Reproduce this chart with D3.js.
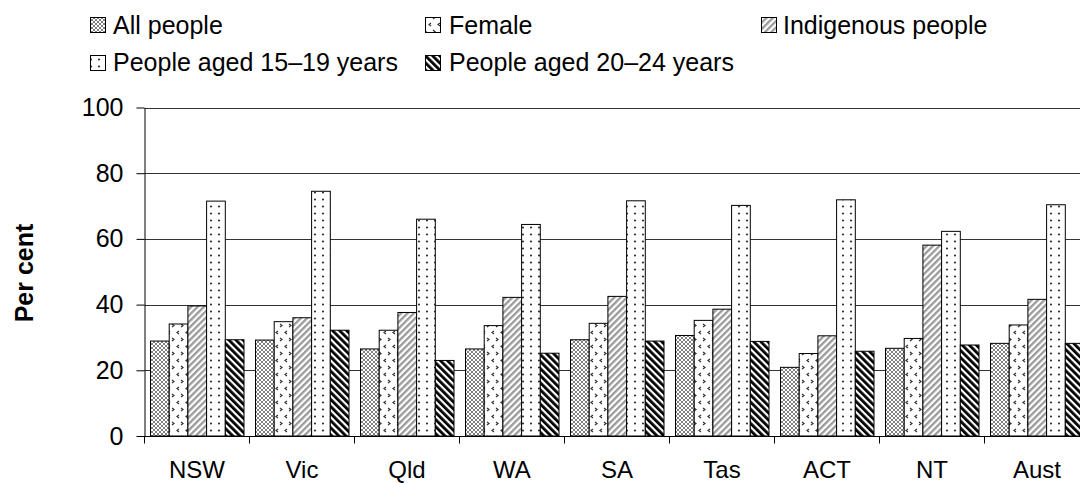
<!DOCTYPE html>
<html>
<head>
<meta charset="utf-8">
<script src="https://cdn.jsdelivr.net/npm/d3@7"></script>
<style>
  html, body { margin: 0; padding: 0; background: #fff; }
  svg { display: block; font-family: "Liberation Sans", Arial, sans-serif; }
</style>
</head>
<body>
<svg id="chart" width="1080" height="483"></svg>
<script>
const categories = ["NSW", "Vic", "Qld", "WA", "SA", "Tas", "ACT", "NT", "Aust"];
const seriesNames = ["All people", "Female", "Indigenous people", "People aged 15\u201319 years", "People aged 20\u201324 years"];
const allPeople  = [28.9, 29.2, 26.5, 26.5, 29.3, 30.6, 20.9, 26.7, 28.2];
const female     = [34.1, 34.8, 32.2, 33.6, 34.3, 35.2, 25.1, 29.7, 33.8];
const indigenous = [39.6, 36.0, 37.6, 42.2, 42.5, 38.6, 30.5, 58.1, 41.6];
const aged1519   = [71.5, 74.5, 66.0, 64.4, 71.6, 70.2, 71.9, 62.3, 70.4];
const aged2024   = [29.3, 32.2, 23.0, 25.2, 28.9, 28.8, 25.8, 27.7, 28.2];
const yTicks = [0, 20, 40, 60, 80, 100];
const yTitle = "Per cent";

const seriesValues = [allPeople, female, indigenous, aged1519, aged2024];
const patternIds = ["pAll", "pFem", "pInd", "p1519", "p2024"];

const svg = d3.select("#chart");
const defs = svg.append("defs");

// Patterns
{
  let p = defs.append("pattern").attr("id", "pAll").attr("patternUnits", "userSpaceOnUse")
    .attr("width", 4).attr("height", 4);
  p.append("rect").attr("width", 4).attr("height", 4).attr("fill", "#fff");
  p.append("path").attr("d", "M0,0L4,4M4,0L0,4").attr("stroke", "#808080").attr("stroke-width", 1);

  p = defs.append("pattern").attr("id", "pFem").attr("patternUnits", "userSpaceOnUse")
    .attr("width", 9).attr("height", 14);
  p.append("rect").attr("width", 9).attr("height", 14).attr("fill", "#fff");
  p.append("path").attr("d", "M1,2L3,3.5L1,5").attr("stroke", "#333").attr("stroke-width", 1.2).attr("fill", "none");
  p.append("path").attr("d", "M8,9L6,10.5L8,12").attr("stroke", "#333").attr("stroke-width", 1.2).attr("fill", "none");

  p = defs.append("pattern").attr("id", "pInd").attr("patternUnits", "userSpaceOnUse")
    .attr("width", 4.5).attr("height", 4.5).attr("patternTransform", "rotate(45)");
  p.append("rect").attr("width", 4.5).attr("height", 4.5).attr("fill", "#fff");
  p.append("rect").attr("width", 2.3).attr("height", 4.5).attr("fill", "#9a9a9a");

  p = defs.append("pattern").attr("id", "p1519").attr("patternUnits", "userSpaceOnUse")
    .attr("width", 8).attr("height", 7);
  p.append("rect").attr("width", 8).attr("height", 7).attr("fill", "#fff");
  p.append("circle").attr("cx", 3).attr("cy", 3.5).attr("r", 1.1).attr("fill", "#333");

  p = defs.append("pattern").attr("id", "p2024").attr("patternUnits", "userSpaceOnUse")
    .attr("width", 5).attr("height", 5).attr("patternTransform", "rotate(-45)");
  p.append("rect").attr("width", 5).attr("height", 5).attr("fill", "#fff");
  p.append("rect").attr("width", 2.8).attr("height", 5).attr("fill", "#000");
}

const x0 = 144.5, band = 105;
const x = d3.scaleBand().domain(categories).range([x0, x0 + band * categories.length]).padding(0);
const xs = d3.scaleBand().domain(d3.range(seriesNames.length)).range([6, 99.5]).padding(0);
const y = d3.scaleLinear().domain([0, 100]).range([436, 107.5]);

// Gridlines
svg.append("g").selectAll("line").data(yTicks.filter(t => t > 0)).join("line")
  .attr("x1", x0).attr("x2", 1080)
  .attr("y1", d => Math.round(y(d)) + 0.5).attr("y2", d => Math.round(y(d)) + 0.5)
  .attr("stroke", "#333").attr("stroke-width", 1);

// Bars
const gBars = svg.append("g");
seriesValues.forEach((vals, si) => {
  gBars.append("g").selectAll("rect").data(categories).join("rect")
    .attr("x", (c) => x(c) + xs(si))
    .attr("y", (c, i) => y(vals[i]))
    .attr("width", xs.bandwidth())
    .attr("height", (c, i) => y(0) - y(vals[i]))
    .attr("fill", `url(#${patternIds[si]})`)
    .attr("stroke", "#000").attr("stroke-width", 1);
});

// Y axis
const yAxis = d3.axisLeft(y).tickValues(yTicks).tickSize(8).tickSizeOuter(0).tickPadding(13);
const gy = svg.append("g").attr("transform", `translate(${x0},0)`).call(yAxis);
gy.select(".domain").attr("stroke", "#000");
gy.selectAll(".tick line").attr("stroke", "#000");
gy.selectAll("text").attr("font-size", 25).attr("fill", "#000")
  .attr("font-family", "'Liberation Sans', Arial, sans-serif");

// X axis baseline and boundary ticks
svg.append("line").attr("x1", x0).attr("x2", 1080).attr("y1", y(0) + 0.5).attr("y2", y(0) + 0.5)
  .attr("stroke", "#000");
const bounds = categories.map(c => x(c)).concat([x(categories[categories.length - 1]) + x.bandwidth()]);
svg.append("g").selectAll("line").data(bounds).join("line")
  .attr("x1", d => d).attr("x2", d => d)
  .attr("y1", y(0)).attr("y2", y(0) + 7.5)
  .attr("stroke", "#000");

// X labels
svg.append("g").selectAll("text").data(categories).join("text")
  .attr("x", c => x(c) + x.bandwidth() / 2)
  .attr("y", 478)
  .attr("text-anchor", "middle")
  .attr("font-size", 24).attr("fill", "#000")
  .text(c => c);

// Y title
svg.append("text")
  .attr("transform", "translate(33,273) rotate(-90)")
  .attr("text-anchor", "middle")
  .attr("font-size", 25).attr("font-weight", "bold").attr("fill", "#000")
  .text(yTitle);

// Legend
const legendPos = [
  { sx: 90, sy: 17, tx: 113, ty: 34 },
  { sx: 425, sy: 17, tx: 449, ty: 34 },
  { sx: 761, sy: 17, tx: 783, ty: 34 },
  { sx: 90, sy: 55, tx: 113, ty: 71 },
  { sx: 425, sy: 55, tx: 449, ty: 71 }
];
const gLeg = svg.append("g");
seriesNames.forEach((name, i) => {
  const p = legendPos[i];
  gLeg.append("rect").attr("x", p.sx + 0.5).attr("y", p.sy + 0.5).attr("width", 15).attr("height", 15)
    .attr("fill", `url(#${patternIds[i]})`).attr("stroke", "#000").attr("stroke-width", 1);
  gLeg.append("text").attr("x", p.tx).attr("y", p.ty).attr("font-size", 25).attr("fill", "#000").text(name);
});
</script>
</body>
</html>
